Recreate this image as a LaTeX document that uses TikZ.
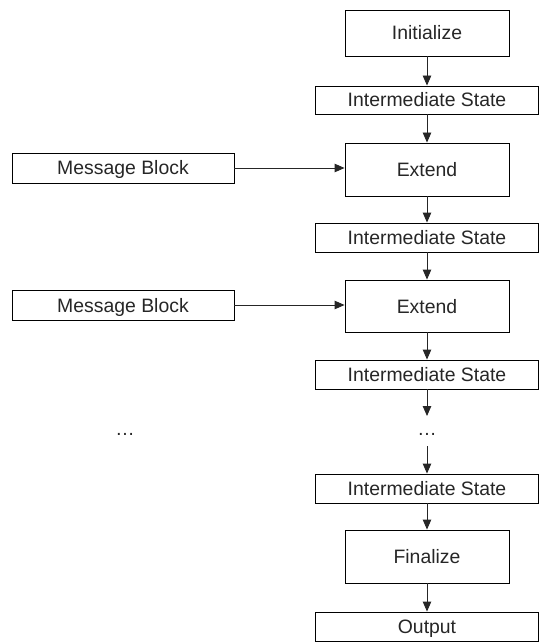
\documentclass[tikz,border=0pt]{standalone}
\usepackage{fontspec}
\setmainfont{Liberation Sans}
\usetikzlibrary{arrows.meta}
\begin{document}
\begin{tikzpicture}[x=1pt,y=-1pt,
  box/.style={draw=black, line width=0.9pt, inner sep=0pt, font=\fontsize{19.4}{21}\selectfont, text=black!85, text height=14pt, text depth=0pt},
  wide/.style={box, minimum width=223pt},
  mid/.style={box, minimum width=164pt},
  msg/.style={box, minimum width=222pt, minimum height=30pt},
  conn/.style={draw=black!85, line width=0.9pt, -{Triangle[length=10pt,width=8.5pt]}},
  dots/.style={font=\fontsize{19.4}{21}\selectfont, text=black!85, inner sep=0pt}
]
\useasboundingbox (0,0) rectangle (540,644);
\node[mid, minimum height=46pt] (init) at (427,33) {Initialize};
\node[wide, minimum height=28pt] (is1) at (427,100) {Intermediate State};
\node[mid, minimum height=53pt] (ext1) at (427,169.5) {Extend};
\node[wide, minimum height=29pt] (is2) at (427,237.5) {Intermediate State};
\node[msg] (mb1) at (123,168) {Message Block};
\node[mid, minimum height=52pt] (ext2) at (427,306) {Extend};
\node[msg] (mb2) at (123,305) {Message Block};
\node[wide, minimum height=29pt] (is3) at (427,374.5) {Intermediate State};
\node[dots] (d1) at (427,434) {…};
\node[dots] (d2) at (125,434) {…};
\coordinate (c1) at (427,416);
\coordinate (c2) at (427,446);
\node[wide, minimum height=29pt] (is4) at (427,488.5) {Intermediate State};
\node[mid, minimum height=53pt] (fin) at (427,556.5) {Finalize};
\node[wide, minimum height=29pt] (out) at (427,626.5) {Output};

\draw[conn] (init) -- (is1);
\draw[conn] (is1) -- (ext1);
\draw[conn] (ext1) -- (is2);
\draw[conn] (is2) -- (ext2);
\draw[conn] (ext2) -- (is3);
\draw[conn] (mb1) -- (mb1 -| ext1.west);
\draw[conn] (mb2) -- (mb2 -| ext2.west);
\draw[conn] (is3) -- (c1);
\draw[conn] (c2) -- (is4);
\draw[conn] (is4) -- (fin);
\draw[conn] (fin) -- (out);
\end{tikzpicture}
\end{document}
